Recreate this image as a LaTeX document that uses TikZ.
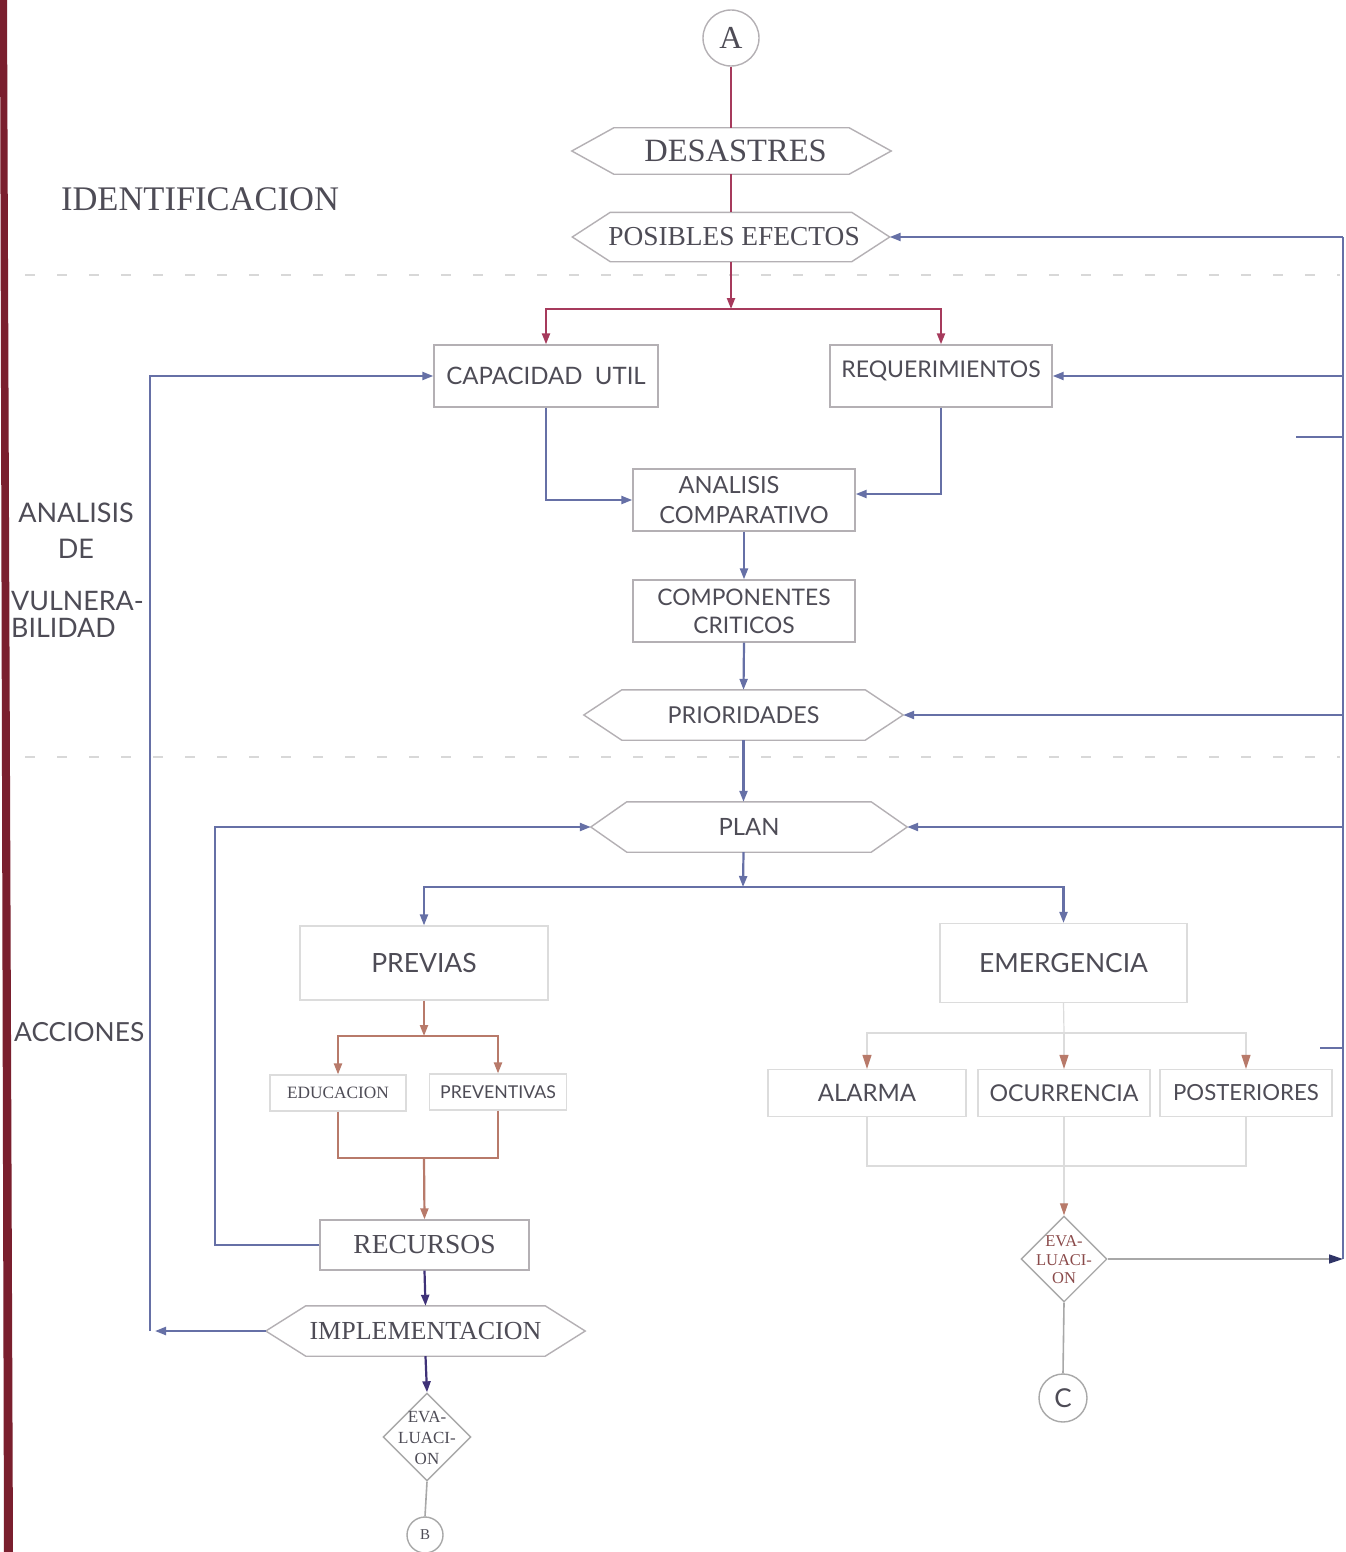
\documentclass[tikz,border=0pt]{standalone}
\usepackage{fontspec}
\setmainfont{Liberation Serif}
\newfontfamily\optf{Lato}
\usetikzlibrary{arrows.meta,shapes.geometric,calc}
\definecolor{crim}{HTML}{A63A5C}
\definecolor{bluc}{HTML}{6670A6}
\definecolor{brnc}{HTML}{B87A6A}
\definecolor{purc}{HTML}{3F3278}
\definecolor{navyc}{HTML}{2F3466}
\definecolor{grayc}{HTML}{A8A8A8}
\definecolor{boxc}{HTML}{B4B0B4}
\definecolor{faintc}{HTML}{DCDCDC}
\definecolor{txtc}{HTML}{4E4C56}
\definecolor{evtc}{HTML}{8A4A4A}
\definecolor{barc}{HTML}{7A1F2E}
\definecolor{sepc}{HTML}{D8D8D8}
\newcommand\fsz[1]{\fontsize{#1}{#1}\selectfont}
\newcommand\hexa[2]{\draw[hexline] (#1.west) -- ([xshift=#2]#1.north west) -- ([xshift=-#2]#1.north east) -- (#1.east) -- ([xshift=-#2]#1.south east) -- ([xshift=#2]#1.south west) -- cycle;}
\begin{document}
\begin{tikzpicture}[x=1pt,y=-1pt,
  txt/.style={text=txtc,inner sep=0pt},
  sertxt/.style={txt,font=\rmfamily},
  santxt/.style={txt,font=\optf},
  boxn/.style={draw=boxc,line width=1.4pt,inner sep=0pt,text=txtc},
  faintn/.style={draw=faintc,line width=1.2pt,inner sep=0pt,text=txtc},
  hexn/.style={draw=none,inner sep=0pt,text=txtc},
  hexline/.style={draw=boxc,line width=1.4pt},
  circn/.style={circle,draw=boxc,line width=1.4pt,inner sep=0pt,text=txtc},
  diamn/.style={diamond,draw=grayc,line width=1.4pt,inner sep=0pt,aspect=1},
  con/.style={line width=2.2pt},
  tip/.style={-{Triangle[length=11pt,width=8pt]}},
  ccrim/.style={con,draw=crim},
  cblue/.style={con,draw=bluc},
  cbrn/.style={con,draw=brnc},
  cpur/.style={con,draw=purc},
  cgray/.style={line width=1.6pt,draw=grayc},
  cfaint/.style={line width=1.2pt,draw=faintc},
  sep/.style={draw=sepc,line width=1.5pt,dash pattern=on 10pt off 22pt}
]
\useasboundingbox[fill=white] (0,0) rectangle (1345,1552);
% left bar
\fill[barc] (0,0) -- (7,0) -- (13,1552) -- (4,1552) -- cycle;
% separators
\draw[sep] (25,275) -- (1340,275);
\draw[sep] (25,757) -- (1340,757);

% left labels
\node[sertxt,font=\rmfamily\fsz{34.5pt}] (lid) at (200,199) {IDENTIFICACION};
\node[santxt,font=\optf\fsz{27pt},anchor=center] (lan) at (76,513) {ANALISIS};
\node[santxt,font=\optf\fsz{27pt}] (lde) at (76,549) {DE};
\node[santxt,font=\optf\fsz{26.8pt},anchor=west] (lvu) at (11,601) {VULNERA-};
\node[santxt,font=\optf\fsz{26.8pt},anchor=west] (lbi) at (11,628) {BILIDAD};
\node[santxt,font=\optf\fsz{26.3pt},anchor=west] (lac) at (14,1032) {ACCIONES};

% top
\node[circn,minimum size=56pt,font=\rmfamily\fsz{32pt}] (A) at (731,38) {A};
\node[hexn,minimum width=319pt,minimum height=46pt,font=\rmfamily\fsz{32.5pt}] (des) at (731.5,151) {\hspace*{8pt}DESASTRES};
\hexa{des}{42pt}
\node[hexn,minimum width=317pt,minimum height=49pt,font=\rmfamily\fsz{27.4pt}] (pos) at (731,237) {\hspace*{6pt}POSIBLES EFECTOS};
\hexa{pos}{38pt}
\node[boxn,minimum width=224pt,minimum height=62pt,font=\optf\fsz{24pt}] (cap) at (546,376) {CAPACIDAD\ \ UTIL};
\node[boxn,minimum width=222pt,minimum height=62pt,font=\optf\fsz{23pt},text depth=14pt] (req) at (941,376) {REQUERIMIENTOS};
\node[boxn,minimum width=222pt,minimum height=62pt,font=\optf\fsz{23.6pt},align=center] (ana) at (744,500) {\hspace*{-30pt}ANALISIS\\[7pt]COMPARATIVO};
\node[boxn,minimum width=222pt,minimum height=62pt,font=\optf\fsz{22.8pt},align=center] (comp) at (744,611) {COMPONENTES\\[5pt]CRITICOS};
\node[hexn,minimum width=319pt,minimum height=50pt,font=\optf\fsz{23.3pt}] (pri) at (743.5,715) {PRIORIDADES};
\hexa{pri}{38pt}
\node[hexn,minimum width=316pt,minimum height=50pt,font=\optf\fsz{23.8pt}] (plan) at (749,827) {PLAN};
\hexa{plan}{36pt}

% previas
\node[faintn,minimum width=248pt,minimum height=74pt,font=\optf\fsz{26.5pt}] (prev) at (424,963) {PREVIAS};
\node[faintn,minimum width=136pt,minimum height=36pt,font=\rmfamily\fsz{17.3pt}] (edu) at (338,1093) {EDUCACION};
\node[faintn,minimum width=137pt,minimum height=36pt,font=\optf\fsz{17.7pt}] (prvt) at (498,1092) {PREVENTIVAS};
\node[boxn,minimum width=209pt,minimum height=50pt,font=\rmfamily\fsz{27.5pt}] (rec) at (424.5,1245) {RECURSOS};
\node[hexn,minimum width=319pt,minimum height=50pt,font=\rmfamily\fsz{26pt}] (impl) at (425.5,1331) {IMPLEMENTACION};
\hexa{impl}{40pt}
\node[diamn,minimum width=88pt,minimum height=88pt] (ev1) at (427,1437) {};
\node[sertxt,font=\rmfamily\fontsize{17pt}{21pt}\selectfont,align=center,text=txtc] (ev1t) at (427,1438) {EVA-\\LUACI-\\ON};
\node[circn,minimum size=36pt,font=\rmfamily\fsz{15pt},draw=grayc] (B) at (425,1535) {B};

% emergencia
\node[faintn,minimum width=247pt,minimum height=79pt,font=\optf\fsz{26.4pt}] (emer) at (1063.5,963) {EMERGENCIA};
\node[faintn,minimum width=198pt,minimum height=47pt,font=\optf\fsz{24pt}] (alar) at (867,1093) {ALARMA};
\node[faintn,minimum width=172pt,minimum height=47pt,font=\optf\fsz{23.2pt}] (ocur) at (1064,1093) {OCURRENCIA};
\node[faintn,minimum width=172pt,minimum height=47pt,font=\optf\fsz{22.2pt}] (post) at (1246,1093) {POSTERIORES};
\node[diamn,minimum width=86pt,minimum height=86pt] (ev2) at (1064,1259) {};
\node[sertxt,font=\rmfamily\fontsize{16.5pt}{18.5pt}\selectfont,align=center,text=evtc] (ev2t) at (1064,1260) {EVA-\\LUACI-\\ON};
\node[circn,minimum size=48pt,font=\optf\fsz{26pt},draw=grayc] (C) at (1063,1398) {C};

% coordinates
\coordinate (s1) at (731,309);
\coordinate (s2) at (743,887);
\coordinate (s3) at (424,1036);
\coordinate (m3) at (424,1158);
\coordinate (s4) at (1064,1033);
\coordinate (m4) at (1064,1166);
\coordinate (rtop) at (1343,237);
\coordinate (rreq) at (1343,376);
\coordinate (rpri) at (1343,715);
\coordinate (rplan) at (1343,827);
\coordinate (rbot) at (1343,1259);
\coordinate (st1a) at (1296,437);
\coordinate (st1b) at (1343,437);
\coordinate (st2a) at (1320,1048);
\coordinate (st2b) at (1343,1048);
\coordinate (lrec) at (215,1245);
\coordinate (limp) at (155,1331);
\coordinate (limp2) at (150,1331);

% red connectors
\draw[ccrim] (A) -- (A |- des.north);
\draw[ccrim] (A |- des.south) -- (A |- pos.north);
\draw[ccrim,tip] (pos.south) -- (s1);
\draw[ccrim,tip] (s1) -| (cap.north);
\draw[ccrim,tip] (s1) -| (req.north);

% blue connectors
\draw[cblue,tip] (cap.south) |- (ana.west);
\draw[cblue,tip] (req.south) |- ([yshift=6pt]ana.east);
\draw[cblue,tip] (ana.south) -- (comp.north);
\draw[cblue,tip] (comp.south) -- (pri.north);
\draw[cblue,tip] (pri.south) -- (plan.north -| pri.south);
\draw[cblue,tip] (plan.south -| pri.south) -- (s2);
\draw[cblue,tip] (s2) -| (prev.north);
\draw[cblue,tip] (s2) -| (emer.north);
% right spine
\draw[cblue] (rtop) -- (rbot);
\draw[cblue,tip] (rtop) -- (pos.east);
\draw[cblue,tip] (rreq) -- (req.east);
\draw[cblue,tip] (rpri) -- (pri.east);
\draw[cblue,tip] (rplan) -- (plan.east);
\draw[cblue] (st1a) -- (st1b);
\draw[cblue] (st2a) -- (st2b);
% left loops
\draw[cblue,tip] (rec.west) -- (lrec) |- (plan.west);
\draw[cblue,tip] (impl.west) -- (limp);
\draw[cblue,tip] (limp2) |- (cap.west);

% previas connectors
\draw[cbrn,tip] (prev.south) -- (s3);
\draw[cbrn,tip] (s3) -| (edu.north);
\draw[cbrn,tip] (s3) -| (prvt.north);
\draw[cbrn] (edu.south) |- (m3);
\draw[cbrn] (prvt.south) |- (m3);
\draw[cbrn,tip] (m3) -- (rec.north);
\draw[cpur,tip] (rec.south) -- (impl.north);
\draw[cpur,tip] (impl.south) -- (ev1.north);
\draw[cgray] (ev1.south) -- (B.north);

% emergencia connectors
\draw[cfaint] (emer.south) -- (s4);
\draw[cfaint,-{Triangle[length=14pt,width=9pt,color=brnc]}] (s4) -| (alar.north);
\draw[cfaint,-{Triangle[length=14pt,width=9pt,color=brnc]}] (s4) -- (ocur.north);
\draw[cfaint,-{Triangle[length=14pt,width=9pt,color=brnc]}] (s4) -| (post.north);
\draw[cfaint] (alar.south) |- (m4);
\draw[cfaint] (post.south) |- (m4);
\draw[cfaint] (ocur.south) -- (m4);
\draw[cfaint,-{Triangle[length=12pt,width=8pt,color=brnc]}] (m4) -- (ev2.north);
\draw[cgray,-{Triangle[length=14pt,width=9pt,color=navyc]}] (ev2.east) -- (rbot);
\draw[cgray] (ev2.south) -- (C.north);
\end{tikzpicture}
\end{document}
